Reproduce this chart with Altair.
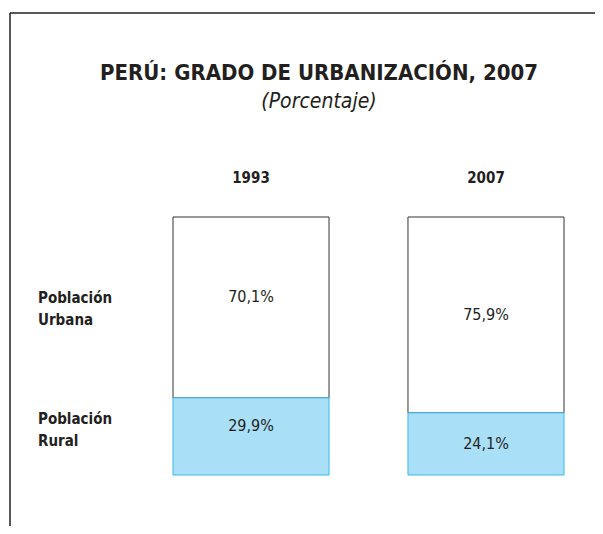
import altair as alt
import pandas as pd

years = ["1993", "2007"]
urbana = [70.1, 75.9]
rural = [29.9, 24.1]
urbana_labels = ["70,1%", "75,9%"]
rural_labels = ["29,9%", "24,1%"]
row_labels = ["Población\nUrbana", "Población\nRural"]
title_text = "PERÚ: GRADO DE URBANIZACIÓN, 2007"
subtitle_text = "(Porcentaje)"

rows = []
for i, yr in enumerate(years):
    rows.append({"year": yr, "area": "Rural", "value": rural[i], "label": rural_labels[i], "order": 0})
    rows.append({"year": yr, "area": "Urbana", "value": urbana[i], "label": urbana_labels[i], "order": 1})
df = pd.DataFrame(rows)

FONT = "DejaVu Sans Condensed"
INK = "#231f20"
x_scale = alt.Scale(domain=years, range=[165, 556], paddingInner=0.336, paddingOuter=0)
y_scale = alt.Scale(domain=[0, 100], range=[467, 209])

base = alt.Chart(df).transform_stack(
    stack="value", groupby=["year"], as_=["v0", "v1"], sort=[alt.SortField("order")]
).transform_calculate(mid="(datum.v0 + datum.v1) / 2")

X = alt.X("year:N", scale=x_scale, axis=None)
Ymid = alt.Y("mid:Q", scale=y_scale, axis=None)

urban_bars = base.transform_filter("datum.area == 'Urbana'").mark_bar(
    fill="#ffffff", stroke="#333333", strokeWidth=1
).encode(x=X, y=alt.Y("v0:Q", scale=y_scale, axis=None), y2="v1:Q")

rural_bars = base.transform_filter("datum.area == 'Rural'").mark_bar(
    fill="#aadff8", stroke="#3bb7ea", strokeWidth=1
).encode(x=X, y=alt.Y("v0:Q", scale=y_scale, axis=None), y2="v1:Q")

value_text_a = base.transform_filter("datum.year == '1993'").mark_text(
    font=FONT, fontSize=16, color=INK, baseline="middle", dy=-10
).encode(x=X, y=Ymid, text="label:N")
value_text_b = base.transform_filter("datum.year == '2007'").mark_text(
    font=FONT, fontSize=16, color=INK, baseline="middle"
).encode(x=X, y=Ymid, text="label:N")

rl = pd.DataFrame({"row": row_labels})
row_urb = alt.Chart(rl).transform_filter("indexof(datum.row, 'Urbana') >= 0").mark_text(
    font=FONT, fontSize=15, fontWeight="bold", color=INK, align="left",
    baseline="middle", lineBreak="\n", lineHeight=22
).encode(x=alt.value(30), y=alt.value(290), text="row:N")
row_rur = alt.Chart(rl).transform_filter("indexof(datum.row, 'Rural') >= 0").mark_text(
    font=FONT, fontSize=15, fontWeight="bold", color=INK, align="left",
    baseline="middle", lineBreak="\n", lineHeight=22
).encode(x=alt.value(30), y=alt.value(411), text="row:N")

head_df = pd.DataFrame({"year": years})
head_text = alt.Chart(head_df).mark_text(
    font=FONT, fontSize=15, fontWeight="bold", color=INK, baseline="middle"
).encode(x=X, y=alt.value(170), text="year:N")

one = pd.DataFrame({"t": [title_text], "s": [subtitle_text]})
title = alt.Chart(one).mark_text(
    font=FONT, fontSize=22, fontWeight="bold", color=INK, baseline="middle"
).encode(x=alt.value(311), y=alt.value(65), text="t:N")
subtitle = alt.Chart(one).mark_text(
    font=FONT, fontSize=21, fontStyle="italic", color=INK, baseline="middle"
).encode(x=alt.value(311), y=alt.value(94), text="s:N")

top_line = alt.Chart(one).mark_rule(color=INK, strokeWidth=1.5).encode(
    x=alt.value(2), x2=alt.value(587), y=alt.value(5)
)
left_line = alt.Chart(one).mark_rule(color=INK, strokeWidth=1.5).encode(
    x=alt.value(2), y=alt.value(5), y2=alt.value(518)
)

chart = alt.layer(
    top_line, left_line, urban_bars, rural_bars, value_text_a, value_text_b,
    row_urb, row_rur, head_text, title, subtitle
).properties(
    width=587, height=518, padding=0, autosize=alt.AutoSizeParams(type="none")
).configure_view(stroke=None)

chart.save("out.html", embed_options={"renderer": "svg", "actions": False})
